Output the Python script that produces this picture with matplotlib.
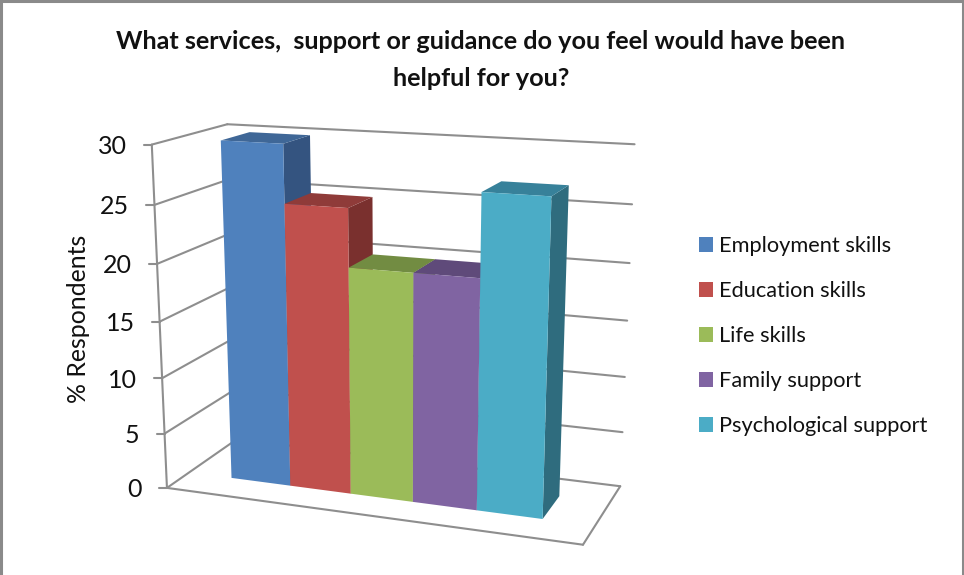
import numpy as np
import matplotlib
matplotlib.use('Agg')
import matplotlib.pyplot as plt
from matplotlib.patches import Patch, Polygon

categories = ['Employment skills', 'Education skills', 'Life skills',
              'Family support', 'Psychological support']
values = [30.0, 25.0, 20.0, 20.0, 27.0]
yticks = [0, 5, 10, 15, 20, 25, 30]
front_colors = ['#4F81BD', '#C0504D', '#9BBB59', '#8064A2', '#4BACC6']
top_colors = ['#3F6797', '#8F3B39', '#728C42', '#5F4A7A', '#37819A']
side_colors = ['#345480', '#7A302E', '#5F7537', '#503E67', '#2F6C7E']

title = 'What services,  support or guidance do you feel would have been\nhelpful for you?'
ylabel = '% Respondents'

plt.rcParams['font.family'] = ['Lato', 'DejaVu Sans']
GRID = '#8E8E8E'

# box corners of the 3D plot: (u, v, h) -> where they land on the canvas
corners = [
    ((0, 0, 0), (167, 489)), ((1, 0, 0), (582, 544)),
    ((0, 1, 0), (237, 438)), ((1, 1, 0), (621, 487)),
    ((0, 0, 30), (152, 145)), ((1, 0, 30), (597, 168)),
    ((0, 1, 30), (227, 124)), ((1, 1, 30), (634, 145)),
]

# fit a perspective camera to those corners
A, b = [], []
for (u, v, h), (px, py) in corners:
    A.append([u, v, h, 1, 0, 0, 0, 0, -px * u, -px * v, -px * h])
    b.append(px)
    A.append([0, 0, 0, 0, u, v, h, 1, -py * u, -py * v, -py * h])
    b.append(py)
cam = np.linalg.lstsq(np.array(A, float), np.array(b, float), rcond=None)[0]
cam = np.append(cam, 1).reshape(3, 4)


def proj(u, v, h):
    p = cam @ np.array([u, v, h, 1.0])
    return p[0] / p[2], p[1] / p[2]


fig = plt.figure(figsize=(9.64, 5.75), dpi=100)
ax = fig.add_axes([0, 0, 1, 1])
ax.set_xlim(0, 964)
ax.set_ylim(575, 0)
ax.axis('off')


def line(p, q, lw=1.5):
    ax.plot([p[0], q[0]], [p[1], q[1]], color=GRID, lw=lw, solid_capstyle='round', zorder=1)


# chart frame
ax.plot([1, 1], [0, 575], color='#8A8A8A', lw=2.2, zorder=1)
ax.plot([962.5, 962.5], [0, 575], color='#8A8A8A', lw=2.2, zorder=1)
ax.plot([0, 964], [1, 1], color='#8A8A8A', lw=2.2, zorder=1)

# gridlines on side and back walls
for t in yticks:
    line(proj(0, 0, t), proj(0, 1, t))
    line(proj(0, 1, t), proj(1, 1, t))
    fx, fy = proj(0, 0, t)
    line((fx - 8, fy), (fx, fy))
    ax.text(fx - 25, fy + 2, str(t), ha='right', va='center', fontsize=18, color='#111111')
line(proj(0, 0, 0), proj(0, 0, 30))
line(proj(0, 0, 0), proj(1, 0, 0))
line(proj(1, 0, 0), proj(1, 1, 0))

# bars, left to right so each one covers the side of the one before
u0, u1 = 0.113, 0.881
v0, v1 = 0.3, 0.7
width = (u1 - u0) / len(values)
for i, val in enumerate(values):
    ul, ur = u0 + i * width, u0 + (i + 1) * width
    side = [proj(ur, v0, 0), proj(ur, v1, 0), proj(ur, v1, val), proj(ur, v0, val)]
    top = [proj(ul, v0, val), proj(ur, v0, val), proj(ur, v1, val), proj(ul, v1, val)]
    front = [proj(ul, v0, 0), proj(ur, v0, 0), proj(ur, v0, val), proj(ul, v0, val)]
    ax.add_patch(Polygon(side, fc=side_colors[i], ec='none', zorder=2 + i))
    ax.add_patch(Polygon(top, fc=top_colors[i], ec='none', zorder=2 + i))
    ax.add_patch(Polygon(front, fc=front_colors[i], ec='none', zorder=2 + i))

ax.text(481, 60, title, ha='center', va='center', fontsize=18.2, fontweight='bold',
        color='#111111', linespacing=1.72)
ax.text(79, 319, ylabel, ha='center', va='center', rotation=90, fontsize=17.9, color='#111111')

handles = [Patch(fc=c, ec='none') for c in front_colors]
ax.legend(handles, categories, loc='upper left', bbox_to_anchor=(0.7046, 0.623), frameon=False,
          fontsize=15.7, handlelength=0.66, handleheight=0.66, handletextpad=0.27,
          labelspacing=1.14, labelcolor='#111111')

fig.savefig('out.png', dpi=100)
